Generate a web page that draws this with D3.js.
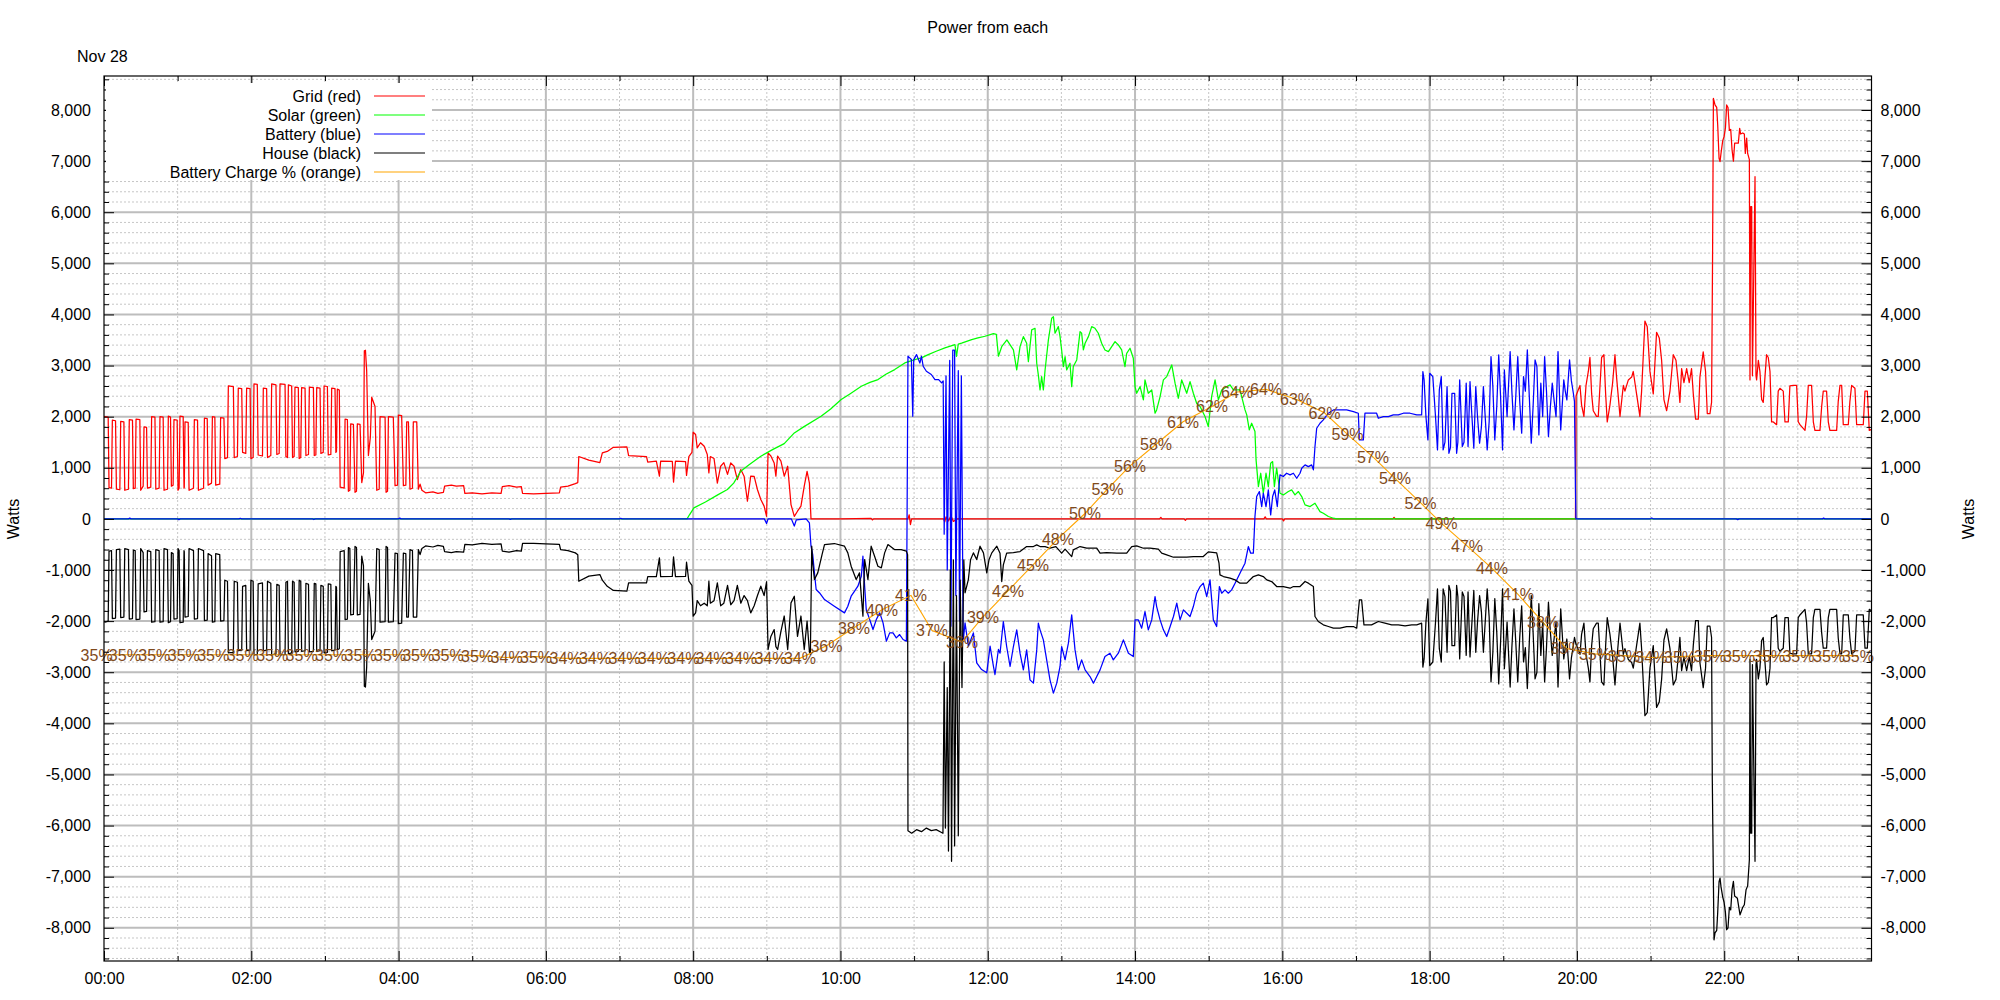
<!DOCTYPE html>
<html><head><meta charset="utf-8">
<script src="https://cdn.jsdelivr.net/npm/d3@7"></script>
<style>
body{margin:0;background:#fff;}
svg{font-family:"Liberation Sans",Arial,sans-serif;}
</style></head><body>
<svg id="c" width="2000" height="1000"></svg>
<script>
// ---------- DATA (minutes since midnight, watts) ----------
const gridData = [
[0,1990],[0.8,2000],[3.4,1990],[4.1,610],[6.1,600],[6.8,1930],[9.4,1920],[10.1,580],[12.9,570],[13.6,1910],[16.2,1900],[16.9,560],[19.9,580],[20.6,1940],[23.2,1930],[23.9,590],[25.4,600],[26.1,1950],[29.2,1940],[29.9,560],[31.9,640],[32.6,1800],[34.7,1790],[35.4,600],[38.1,620],[38.8,2000],[41.5,1990],[42.2,580],[44.9,600],[45.6,2000],[48.2,1990],[48.9,560],[51.7,580],[52.4,2010],[54.2,1990],[54.9,640],[56.3,660],[57,1940],[59.6,1930],[60.3,560],[61.2,600],[61.9,2010],[64.5,2000],[65.2,600],[65.4,620],[66,1900],[68.6,1890],[69.3,560],[72.9,600],[73.6,1940],[76.2,1930],[76.9,560],[81.1,600],[81.8,1970],[84.1,1960],[84.8,660],[87.6,700],[88.3,2000],[90.3,1990],[91,660],[94.3,680],[95,1980],[97.7,1970],[98.4,1180],[100.6,1200],
[101.3,2600],[105.4,2590],[106.1,1200],[108.7,1220],[109.4,2560],[112.2,2550],[112.9,1300],[115.5,1280],[116.2,2560],[119,2550],[119.7,1180],[121.5,1200],[122.2,2640],[124.9,2630],[125.6,1250],[129.1,1230],[129.8,2560],[132.5,2550],[133.2,1200],[135.9,1240],[136.6,2640],[140.1,2620],[140.8,1260],[142.7,1280],[143.4,2640],[147.5,2630],[148.2,1220],[149.5,1200],[150.2,2620],[152.9,2600],[153.6,1200],[154.9,1220],[155.6,2580],[158.3,2570],[159,1180],[160.3,1200],[161,2570],[163.8,2560],[164.5,1240],[166.6,1260],[167.3,2580],[170.6,2570],[171.3,1240],[172.6,1250],[173.3,2570],[176,2560],[176.7,1280],[178.6,1300],[179.3,2600],[182,2590],[182.7,1250],[184.8,1260],[185.5,2560],[188.2,2550],[188.9,1300],[189.4,1320],[190.1,2540],[191.7,2520],[192.4,620],
[195.7,600],[196.4,1950],[198.3,1940],[199.1,540],[200.3,560],[201,1860],[203.2,1850],[204.5,520],[205.7,540],[206.4,1860],[208.6,1850],[210,710],[211.4,900],[212.1,3290],[213,3300],[214,2900],[215.4,1240],[217,1600],[218.1,2380],[220.8,2200],[222.2,560],[224.2,580],[224.9,2000],[229,1990],[229.8,520],[231,540],[231.7,2000],[235.7,1990],[237.1,650],[239.1,660],[239.8,2030],[242.5,2020],[243.9,650],[245.9,660],[246.6,1900],[248,1900],[249.3,580],[251.3,600],[252,1900],[254.8,1900],[256.1,580],
[257.5,680],[259,560],[262,510],[268,530],[272,500],[276.5,520],[277.5,640],[283,660],[287,640],[293,650],[294,500],[300,510],[308,490],[316,510],[323.5,500],[324.5,630],[330,650],[336,620],[340,630],[341,500],[350,490],[360,500],[371,510],[372,620],[378,640],[384,690],[386,710],[386.8,1220],[395,1150],[404,1100],[406,1290],[410,1320],[415,1400],[426,1410],[427.4,1240],[442,1220],[443,1110],[450,1130],[452.5,835],[453.5,1130],[463,1125],[464,720],[465.6,1130],[473.8,1120],[474.6,850],[476.5,1220],[479,1300],[480,1695],[482,1650],[483.3,1390],[486,1490],[489,1420],[491.5,1260],[492.8,900],[494,1220],[497,1180],[499.7,700],[502.4,1030],[505,1100],[508,870],[510.6,1095],[513.3,1030],[516,770],[518.8,965],[521.5,835],[524.2,345],[526.9,835],[529.7,830],[532.4,570],[535.1,380],[537.8,250],[539.8,50],[541,1290],[543.3,1230],[546,1095],[547.4,835],[548.8,1230],[551.5,1130],[554.2,835],[557,1030],[559.7,280],[562.4,50],[565,150],[567.8,250],[570.5,640],[572.8,930],[574.7,700],[576,0],
[600,0],[625,10],[626,-20],[627,0],[655,0],[656,80],[657,-110],[658,0],[684,0],[685,-60],[686,40],[688,-40],[690,60],[692,-50],[695,0],[860,0],[861,30],[862,0],[880,0],[881,-30],[882,0],[945,0],[946,40],[947,0],[960,0],[961,-40],[962,0],[1050,0],[1051,30],[1052,0],[1198.8,0],
[1199.3,2400],[1199.8,2445],[1202.5,2610],[1203.8,2226],[1205.7,2006],[1207.4,2610],[1209.3,2884],[1210.6,3158],[1212,2445],[1213.3,2116],[1216,2006],[1217.4,2006],[1220.1,3158],[1222,3212],[1223.4,2445],[1224.7,1897],[1226.9,2226],[1229.1,2664],[1231,3212],[1232.3,2774],[1235.1,2006],[1237.8,2610],[1239.1,2500],[1241.9,2719],[1244.6,2774],[1245.9,2884],[1248.6,2445],[1251.3,2006],[1252.7,2500],[1255.4,3870],[1257.3,3760],[1259.5,2884],[1262.2,2445],[1264.9,3651],[1267.1,3541],[1269,3103],[1270.9,2335],[1273.1,2116],[1275.8,2500],[1278.5,3212],[1280.7,3103],[1282.6,2664],[1283.9,2280],[1285.3,2938],[1287.2,2664],[1289.4,2938],[1291.5,2664],[1293.4,2938],[1294.8,2445],[1296.7,1951],[1298.9,1951],[1300.2,2774],[1302.9,3267],[1304.8,2884],[1306.2,2061],[1308.4,2061],[1309.7,2280],[1310.5,5076],[1311.2,8229],[1312.5,8100],[1313.9,8050],[1314.7,7707],[1315.8,7055],[1316.6,6990],[1317.4,7153],[1318.8,7400],[1319.9,7478],[1321,7650],[1322,8098],[1323.1,8050],[1324.2,7600],[1325.3,7620],[1326.4,7218],[1327.5,7000],[1328.5,7350],[1330.2,7350],[1331.5,7350],[1332.6,7640],[1333.4,7530],[1335.1,7550],[1336.4,7530],[1337.2,7150],[1338.3,7450],[1339.1,7150],[1340.5,7030],[1341,2719],[1341.6,6108],[1342.4,6108],[1343,2800],[1345.1,6696],[1345.9,2800],[1346.4,2719],[1347.8,3100],[1349.1,2884],[1350.5,2335],[1351.8,2280],[1353.2,2774],[1354.5,3212],[1355.9,3158],[1357.3,2884],[1358.6,1897],[1360,1897],[1362.7,1843],[1364,2500],[1365.4,2555],[1368.1,2500],[1369.5,1897],[1372.2,1897],[1373.5,2600],[1376.3,2610],[1379,2610],[1380.3,1900],[1381.7,1843],[1385.8,1732],[1387.1,2000],[1388.5,2610],[1391.2,2610],[1392.6,1900],[1393.9,1732],[1398,1732],[1399.4,2200],[1400.7,2500],[1403.4,2500],[1404.8,1900],[1406.1,1732],[1411.6,1732],[1412.9,2300],[1414.3,2610],[1415.7,2610],[1417,1843],[1421.1,1843],[1422.4,2300],[1423.8,2610],[1426.5,2555],[1427.9,1843],[1433.3,1843],[1434.7,2500],[1436.6,2500],[1438.2,1732],[1440,1750]
];

const solarData = [
[-10,0],[475,0],[477,80],[480.6,215],[490,330],[500,470],[507.9,574],[513,700],[518.8,932],[525,1050],[535.1,1226],[545,1360],[554.2,1473],[562.4,1682],[570,1800],[584.2,2008],[592,2150],[600.6,2334],[608,2450],[617,2595],[624,2670],[630.6,2725],[637,2830],[644.2,2921],[652.4,3051],[660.6,3117],[666,3150],[671.5,3214],[678,3280],[685.1,3345],[693.3,3410],[694.5,3180],[696,3420],[698.7,3440],[706.9,3508],[712,3540],[717.8,3573],[724.6,3625],[727,3610],[728.7,3182],[731.5,3377],[735.6,3501],
[740.9,3305],[743.6,2914],[746.3,3371],[749,3566],[751.7,3436],[753.1,3077],[755.8,3697],[758.5,3729],[759.9,3045],[761.2,2817],[762.6,2523],[763.9,2784],[765.3,2523],[766.7,2914],[769.4,3501],[772.1,3925],[773.5,3958],[774.8,3632],[777.5,3762],[778.9,3566],[780.2,3305],[781.6,2980],[783,3175],[784.3,2914],[787,3045],[788.4,2588],[789.7,2980],[792.5,3110],[795.2,3664],[796.5,3632],[797.9,3305],[799.3,3436],[802,3566],[804.7,3762],[807.4,3729],[810.1,3632],[812.8,3436],[815.5,3305],[818.3,3273],[821,3371],[823.7,3469],[826.4,3403],[829.1,3305],[831.8,2980],[833.2,3240],[835.9,3338],[838.6,3143],[840,2588],[841.3,2458],[844.1,2588],[846.8,2328],[848.1,2719],[850.8,2458],[853.6,2523],[856.3,2067],[857.6,2132],[860.4,2393],[863.1,2719],[865.8,2784],[869.9,3012],[872.6,2654],[875.3,2360],[878,2719],[882.1,2458],[884.8,2686],[887.5,2458],[890.2,2262],[893,2197],[897,2002],[899.7,1806],[902.4,2393],[905.2,2719],[907.9,2328],[910.6,2523],[914.7,2588],[917.4,2621],[920.1,2523],[925.5,2523],[929.6,2132],[931,2034],[933.1,1741],[935,1871],[937.7,1708],[938.6,1154],[940.5,632],[942.4,893],[944.5,502],[946.7,893],[948.6,632],[950.5,1089],[952.1,1121],[953.5,632],[955.4,991],[958.1,502],[960.8,469],[964.9,535],[967.6,567],[970.3,469],[973.1,535],[975.8,437],[978.5,274],[982.6,241],[986.6,306],[990.7,143],[993.4,111],[997.5,46],[1001.6,13],[1004.3,0],[1440,0]
];

const batteryData = [
[-10,0],[20,0],[21,15],[22,0],[60,0],[61,-15],[62,0],[110,0],[111,12],[112,0],[170,0],[171,-12],[172,0],[240,0],[241,15],[242,0],[330,0],[331,-10],[332,0],[420,0],[421,12],[422,0],[538,0],[539.8,-90],[541,0],[560,0],[562.4,-140],[564,-20],[572,0],[574.7,-80],[576,-535],[577.4,-700],[578.8,-1056],[580.2,-1382],[583,-1450],[587,-1578],[595,-1708],[603.3,-1839],[606,-1708],[608.7,-1513],[611.5,-1415],[614.2,-1317],[617,-1121],[618.3,-730],[619.7,-1317],[621,-1774],[623.8,-1970],[626.5,-2165],[629.2,-1970],[632,-1839],[634.7,-2034],[637.4,-2393],[640.1,-2230],[642.8,-2230],[645.5,-2328],[648.2,-2263],[651,-2360],[653.7,-2393],
[655,3182],[656.4,3150],[657.8,3117],[658.9,2008],[659.7,3117],[662,3214],[664.7,3050],[666,3182],[667.4,2986],[670,2888],[674,2825],[677,2725],[680,2725],[682.4,2660],[683.7,2700],[684.5,-300],[686,2800],[687,-1000],[689,3100],[690,-2100],[691.5,3300],[693,3300],[694,-1500],[696,2900],[697,-2000],[698.5,2800],[700,-2400],
[701.5,-2034],[704.2,-2490],[708.3,-2230],[711,-2817],[715,-2947],[719.2,-3012],[721.9,-2490],[724.6,-2880],[725.9,-3045],[728.7,-2555],[730,-2628],[732.7,-2008],[735.4,-2497],[738.2,-2888],[740.9,-2497],[743.6,-2171],[746.3,-2628],[749,-2954],[751.7,-2563],[754.4,-3149],[757.2,-3214],[759.9,-2563],[761.2,-2041],[762.6,-2171],[765.3,-2367],[768,-2758],[770.7,-3149],[773.5,-3410],[776.2,-3214],[778.9,-2888],[780.2,-2497],[783,-2758],[785.7,-2432],[788.4,-1878],[791.1,-2563],[793.8,-2954],[796.5,-2758],[799.3,-2954],[803.3,-3084],[806.1,-3214],[808.8,-3084],[811.5,-2954],[815.5,-2693],[819.6,-2628],[822.3,-2758],[826.4,-2628],[830.5,-2367],[834.6,-2628],[838.6,-2693],[840,-1976],[842.7,-1976],[845.4,-2139],[848.1,-1813],[850.8,-2171],[853.6,-1976],[856.3,-1519],[857.6,-1715],[860.4,-1976],[863.1,-2171],[865.8,-2302],[868.6,-2106],[871.3,-1910],[874,-1650],[876.7,-1976],[879.4,-1780],[884.8,-1910],[887.5,-1715],[890.2,-1454],[893,-1324],[895.6,-1258],[898.4,-1519],[901.1,-1193],[903.8,-1976],[906.5,-2106],[908.7,-1324],[910.6,-1454],[913.3,-1389],[916,-1454],[918.7,-1389],[921.5,-1258],[924.2,-1128],[926.9,-997],[929.6,-867],[932.3,-541],[934.2,-671],[936.4,-671],[937.7,46],[939.1,437],[941.3,535],[943.2,241],[944.5,502],[946.7,241],[948.6,567],[950.5,78],[952.1,437],[953.8,567],[955.9,241],[958.1,861],[960.8,828],[963.5,893],[966.3,861],[969,893],[971.7,795],[974.4,893],[975.8,991],[978.5,1056],[981.2,1023],[983.9,1056],[985.3,958],[986.6,1415],[988,1773],[990.7,1871],[993.4,1936],[997.5,2067],[1001.6,2132],[1007,2132],[1012.4,2132],[1017.9,2100],[1021.9,2067],[1022.8,1545],[1024.6,1545],[1026,1545],[1027.3,2067],[1031.4,2067],[1036.8,2067],[1038.2,1969],[1042.3,2000],[1046.4,2000],[1050.4,2034],[1054.5,2034],[1058.6,2067],[1064,2067],[1069.5,2034],[1073.5,2034],
[1074.5,2882],[1075.5,2719],[1077,2000],[1078.6,1545],[1080.1,2849],[1082.6,2784],[1084.8,2002],[1086.4,1350],[1087.9,2523],[1089.5,2784],[1091,1350],[1092.5,1500],[1094.2,2588],[1095.7,1284],[1097,1400],[1098.2,2458],[1100.4,2458],[1102,1284],[1103,1500],[1104.5,2719],[1106.6,1415],[1108,1500],[1109.8,2654],[1111.3,1415],[1112.9,2686],[1114,2200],[1116,1382],[1117.6,2588],[1119,2000],[1120.7,1480],[1122.2,1800],[1123.8,2588],[1126.9,1350],[1128.5,1900],[1130,3175],[1131.5,2600],[1133.1,1545],[1134.7,2200],[1136.3,3208],[1137.8,2400],[1139.4,1350],[1140.9,2914],[1143.1,2002],[1145.6,3273],[1147,2500],[1148.7,1741],[1150.2,2400],[1151.8,3175],[1153.4,2300],[1155,1676],[1156.5,2784],[1158,2500],[1159.6,3305],[1161.2,2400],[1162.8,1480],[1164.3,2200],[1165.9,3110],[1167.4,2980],[1169,1643],[1170.6,2654],[1172.1,2002],[1173.7,3175],[1175.2,2500],[1176.8,1610],[1178.4,2200],[1179.9,2654],[1181.5,2300],[1183,2002],[1184.6,3273],[1186.8,1741],[1189.3,2719],[1190.5,2500],[1191.8,2328],[1194,3110],[1195.5,2700],[1197.1,2458],[1198,2300],[1198.8,600],[1199.2,0],[1260,0],[1261,20],[1262,0],[1330,0],[1331,-15],[1332,0],[1400,0],[1401,15],[1402,0],[1440,0]
];

const houseData = [
[0,-2000],[0.8,-2020],[3.4,-2000],[4.1,-630],[6.1,-620],[6.8,-1950],[9.4,-1940],[10.1,-600],[12.9,-590],[13.6,-1930],[16.2,-1920],[16.9,-580],[19.9,-600],[20.6,-1960],[23.2,-1950],[23.9,-610],[25.4,-620],[26.1,-1970],[29.2,-1960],[29.9,-580],[31.9,-660],[32.6,-1820],[34.7,-1810],[35.4,-620],[38.1,-640],[38.8,-2020],[41.5,-2010],[42.2,-600],[44.9,-620],[45.6,-2020],[48.2,-2010],[48.9,-580],[51.7,-600],[52.4,-2030],[54.2,-2010],[54.9,-660],[56.3,-680],[57,-1960],[59.6,-1950],[60.3,-580],[61.2,-620],[61.9,-2030],[64.5,-2020],[65.2,-620],[65.4,-640],[66,-1920],[68.6,-1910],[69.3,-580],[72.9,-620],[73.6,-1960],[76.2,-1950],[76.9,-580],[81.1,-620],[81.8,-1990],[84.1,-1980],[84.8,-680],[87.6,-720],[88.3,-2020],[90.3,-2010],[91,-680],[94.3,-700],[95,-2000],[97.7,-1990],[98.4,-1200],[100.6,-1220],
[101.3,-2620],[105.4,-2610],[106.1,-1220],[108.7,-1240],[109.4,-2580],[112.2,-2570],[112.9,-1320],[115.5,-1300],[116.2,-2580],[119,-2570],[119.7,-1200],[121.5,-1220],[122.2,-2660],[124.9,-2650],[125.6,-1270],[129.1,-1250],[129.8,-2580],[132.5,-2570],[133.2,-1220],[135.9,-1260],[136.6,-2660],[140.1,-2640],[140.8,-1280],[142.7,-1300],[143.4,-2660],[147.5,-2650],[148.2,-1240],[149.5,-1220],[150.2,-2640],[152.9,-2620],[153.6,-1220],[154.9,-1240],[155.6,-2600],[158.3,-2590],[159,-1200],[160.3,-1220],[161,-2590],[163.8,-2580],[164.5,-1260],[166.6,-1280],[167.3,-2600],[170.6,-2590],[171.3,-1260],[172.6,-1270],[173.3,-2590],[176,-2580],[176.7,-1300],[178.6,-1320],[179.3,-2620],[182,-2610],[182.7,-1270],[184.8,-1280],[185.5,-2580],[188.2,-2570],[188.9,-1320],[189.4,-1340],[190.1,-2560],[191.7,-2540],[192.4,-640],
[195.7,-620],[196.4,-1970],[198.3,-1960],[199.1,-560],[200.3,-580],[201,-1880],[203.2,-1870],[204.5,-540],[205.7,-560],[206.4,-1880],[208.6,-1870],[210,-730],[211.4,-920],[212.1,-3275],[213,-3290],[214,-2900],[215.4,-1260],[217,-1620],[218.1,-2360],[220.8,-2200],[222.2,-580],[224.2,-600],[224.9,-2020],[229,-2010],[229.8,-540],[231,-560],[231.7,-2020],[235.7,-2010],[237.1,-670],[239.1,-680],[239.8,-2050],[242.5,-2040],[243.9,-670],[245.9,-680],[246.6,-1920],[248,-1920],[249.3,-600],[251.3,-620],[252,-1920],[254.8,-1920],[256.1,-600],
[257.5,-700],[259,-580],[262,-530],[268,-550],[272,-520],[276.5,-540],[277.5,-640],[283,-660],[287,-640],[293,-650],[294,-500],[300,-510],[308,-480],[316,-500],[323.5,-490],[324.5,-630],[330,-650],[336,-620],[340,-630],[341,-480],[350,-480],[360,-490],[371,-500],[372,-600],[378,-620],[384,-665],[386,-700],
[386.8,-1220],[395,-1120],[404,-1090],[406,-1200],[410,-1320],[415,-1400],[426,-1415],[427.4,-1250],[442,-1250],[443,-1130],[450,-1130],[452.5,-763],[453.5,-1130],[463,-1125],[464,-743],[465.6,-1130],[473.8,-1125],[474.6,-848],[476.5,-1220],[479,-1300],[480,-1904],[482,-1840],[483.3,-1600],[486,-1700],[489,-1650],[491.5,-1700],[492.8,-1220],[494,-1650],[497,-1600],[499.7,-1250],[502.4,-1700],[505,-1650],[508,-1300],[510.6,-1680],[513.3,-1600],[516,-1300],[518.8,-1650],[521.5,-1500],[524.2,-1600],[526.9,-1839],[529.7,-1700],[532.4,-1500],[535.1,-1317],[537.8,-1500],[539.8,-1230],[541,-2556],[543.3,-2300],[546,-2165],[547.4,-2500],[548.8,-2556],[551.5,-2200],[554.2,-1900],[557,-2556],[559.7,-1643],[562.4,-1513],[565,-2300],[567.8,-1900],[570.5,-2556],[572.8,-2000],[574.7,-2600],[575.5,-2650],[576.6,-535],[577.4,-870],[578.8,-1187],[581.5,-1056],[585,-700],[587,-502],[595,-482],[603.3,-535],[606,-665],[608.7,-926],[612.8,-1187],[615.5,-1056],[618.3,-1904],[619.7,-795],[622.4,-1187],[625,-535],[627.8,-730],[630.5,-926],[633.3,-958],[636,-665],[638.7,-502],[644,-600],[649.5,-600],[653.7,-630],[654.7,-700],
[655,-6100],[658,-6150],[662,-6080],[666,-6120],[670,-6050],[674,-6100],[678,-6080],[682,-6130],[683.5,-6150],[684.5,-2800],[685.5,-6050],[687,-3300],[688,-6500],[689.5,-1000],[690.5,-6700],[692,-800],[693,-6400],[694.5,-1500],[696,-6200],[697.5,-1200],[699,-3300],[700.5,-800],[701.5,-1447],[704.2,-1187],[706,-800],[708.3,-665],[711,-795],[713.7,-535],[716.5,-665],[719.2,-1056],[721,-800],[723.3,-665],[727.4,-535],[730,-671],[731.4,-1226],[732.7,-900],[735.4,-671],[740.9,-658],[746.3,-639],[751.7,-541],[757.2,-541],[759.9,-508],[762.6,-541],[766.7,-541],[770.7,-574],[775.5,-541],[780.2,-671],[783,-593],[788.4,-737],[789.7,-606],[795.2,-541],[800.6,-574],[808.8,-574],[811.5,-671],[816.9,-658],[825.1,-671],[833.2,-671],[837.3,-541],[841.3,-528],[846.8,-574],[852.2,-574],[859,-593],[861.7,-671],[865.8,-704],[871.3,-750],[876.7,-750],[882.1,-750],[887.5,-737],[895.6,-737],[899.7,-645],[906.5,-665],[908.4,-867],[909.2,-1095],[912,-1128],[917.4,-1160],[921.5,-1193],[925.5,-1258],[931,-1258],[936.4,-1128],[940.5,-1095],[944.5,-1128],[947.3,-1193],[951.3,-1226],[955.4,-1324],[960.8,-1324],[966.3,-1356],[969,-1324],[974.4,-1324],[978.5,-1226],[981.2,-1258],[985.3,-1324],[986.6,-1910],[989.3,-2008],[993.4,-2073],[997.5,-2106],[1001.6,-2139],[1007,-2139],[1012.4,-2106],[1017.9,-2106],[1020.6,-2139],[1022.8,-1584],[1024.6,-1584],[1026.5,-2073],[1032.7,-2073],[1038.2,-2008],[1043.6,-2041],[1049.1,-2073],[1054.5,-2073],[1060,-2093],[1065.4,-2073],[1069.5,-2073],[1073.5,-2041],
[1074.5,-2900],[1075.5,-2740],[1077,-2020],[1078.6,-1565],[1080.1,-2870],[1082.6,-2800],[1084.8,-2020],[1086.4,-1370],[1087.9,-2540],[1089.5,-2800],[1091,-1370],[1092.5,-1520],[1094.2,-2610],[1095.7,-1300],[1097,-1420],[1098.2,-2480],[1100.4,-2480],[1102,-1300],[1103,-1520],[1104.5,-2740],[1106.6,-1430],[1108,-1520],[1109.8,-2670],[1111.3,-1430],[1112.9,-2700],[1114,-2220],[1116,-1400],[1117.6,-2610],[1119,-2020],[1120.7,-1500],[1122.2,-1820],[1123.8,-2610],[1126.9,-1370],[1128.5,-1920],[1130,-3190],[1131.5,-2620],[1133.1,-1560],[1134.7,-2220],[1136.3,-3230],[1137.8,-2420],[1139.4,-1370],[1140.9,-2930],[1143.1,-2020],[1145.6,-3290],[1147,-2520],[1148.7,-1760],[1150.2,-2420],[1151.8,-3190],[1153.4,-2320],[1155,-1700],[1156.5,-2800],[1158,-2520],[1159.6,-3320],[1161.2,-2420],[1162.8,-1500],[1164.3,-2220],[1165.9,-3130],[1167.4,-3000],[1169,-1660],[1170.6,-2670],[1172.1,-2020],[1173.7,-3190],[1175.2,-2520],[1176.8,-1630],[1178.4,-2220],[1179.9,-2670],[1181.5,-2320],[1183,-2020],[1184.6,-3290],[1186.8,-1760],[1189.3,-2740],[1190.5,-2520],[1191.8,-2350],[1194,-3130],[1195.5,-2720],[1197.1,-2480],[1198,-2320],[1199.2,-2450],
[1199.8,-2480],[1202.5,-2650],[1203.8,-2260],[1205.7,-2040],[1207.4,-2650],[1209.3,-2920],[1210.6,-3190],[1212,-2480],[1213.3,-2150],[1216,-2040],[1217.4,-2040],[1220.1,-3190],[1222,-3250],[1223.4,-2480],[1224.7,-1930],[1226.9,-2260],[1229.1,-2700],[1231,-3250],[1232.3,-2810],[1235.1,-2040],[1237.8,-2650],[1239.1,-2540],[1241.9,-2750],[1244.6,-2810],[1245.9,-2920],[1248.6,-2480],[1251.3,-2040],[1252.7,-2540],[1255.4,-3850],[1257.3,-3790],[1259.5,-2920],[1262.2,-2480],[1264.9,-3690],[1267.1,-3580],[1269,-3140],[1270.9,-2370],[1273.1,-2150],[1275.8,-2540],[1278.5,-3250],[1280.7,-3140],[1282.6,-2700],[1283.9,-2320],[1285.3,-2970],[1287.2,-2700],[1289.4,-2970],[1291.5,-2700],[1293.4,-2970],[1294.8,-2480],[1296.7,-1990],[1298.9,-1990],[1300.2,-2810],[1302.9,-3300],[1304.8,-2920],[1306.2,-2100],[1308.4,-2100],[1309.7,-2320],[1310.3,-5100],[1311.7,-8235],[1312.5,-8100],[1313.9,-8050],[1314.7,-7700],[1315.8,-7100],[1316.6,-7028],[1317.4,-7200],[1318.8,-7400],[1319.9,-7500],[1321,-7700],[1322,-8039],[1323.1,-8000],[1324.2,-7600],[1325.3,-7650],[1326.4,-7250],[1327.5,-7094],[1328.5,-7380],[1330.7,-7420],[1332.9,-7746],[1335.1,-7600],[1336.4,-7550],[1337.8,-7257],[1339.1,-7180],[1340.5,-6670],[1341,-2750],[1341.6,-6150],[1342.4,-6150],[1343,-2850],[1345.1,-6700],[1345.9,-2850],[1346.4,-2750],[1347.8,-3130],[1349.1,-2920],[1350.5,-2380],[1351.8,-2320],[1353.2,-2800],[1354.5,-3250],[1355.9,-3200],[1357.3,-2920],[1358.6,-1930],[1360,-1930],[1362.7,-1880],[1364,-2530],[1365.4,-2590],[1368.1,-2530],[1369.5,-1930],[1372.2,-1930],[1373.5,-2630],[1376.3,-2640],[1379,-2640],[1380.3,-1930],[1381.7,-1880],[1385.8,-1770],[1387.1,-2030],[1388.5,-2640],[1391.2,-2640],[1392.6,-1930],[1393.9,-1770],[1398,-1770],[1399.4,-2230],[1400.7,-2530],[1403.4,-2530],[1404.8,-1930],[1406.1,-1770],[1411.6,-1770],[1412.9,-2330],[1414.3,-2640],[1415.7,-2640],[1417,-1880],[1421.1,-1880],[1422.4,-2330],[1423.8,-2640],[1426.5,-2590],[1427.9,-1880],[1433.3,-1880],[1434.7,-2530],[1436.6,-2530],[1438.2,-1770],[1440,-1800]
];

// battery state of charge: [minute, percent]
const chargeData = [
[-6,34.7],[17,34.7],[41,34.7],[65,34.7],[89,34.7],[113,34.7],[137,34.7],[161,34.7],[185,34.7],[209,34.7],[233,34.7],[256,34.7],[280,34.7],[304,34.6],[328,34.4],[352,34.5],[376,34.3],[400,34.3],[424,34.3],[448,34.3],[472,34.3],[495,34.3],[519,34.3],[543,34.3],[567,34.3],
[588.6,35.7],[611,37.7],[633.8,39.7],[657.5,41.3],[674.6,37.4],[699,36.1],[716.1,38.9],[736.5,41.8],[756.9,44.7],[777.2,47.6],[799.2,50.4],[817.5,53.1],[835.9,55.7],[857.1,58.1],[879.1,60.6],[902.7,62.3],[923.1,63.9],[946.7,64.2],[971.2,63.1],[994.3,61.6],[1013.1,59.2],[1033.8,56.7],[1051.8,54.3],[1072.5,51.6],[1089.7,49.3],[1110.5,46.8],[1130.8,44.3],[1152,41.4],[1172.4,38.3],[1191.5,35.4],[1214.7,34.8],[1238.4,34.6],[1260.7,34.4],[1284,34.5],[1308.4,34.6],[1332,34.6],[1356.5,34.6],[1380.5,34.6],[1405.4,34.6],[1429,34.6]
];

const yTickValues = [-8000,-7000,-6000,-5000,-4000,-3000,-2000,-1000,0,1000,2000,3000,4000,5000,6000,7000,8000];
const xTickMinutes = [0,120,240,360,480,600,720,840,960,1080,1200,1320];
const legendNames = ["Grid (red)","Solar (green)","Battery (blue)","House (black)","Battery Charge % (orange)"];
const titleText = "Power from each";
const dateText = "Nov 28";
const axisTitle = "Watts";

// ---------- DRAWING ----------
const L=104, R=1871.5, T=76, B=961;
const colors=["#ff0000","#00ff00","#0000ff","#000000","#ffa500"];
const labelColor="#7f4a1c";
const FONT='"Liberation Sans",Arial,sans-serif';

const x=d3.scaleLinear().domain([0,1440]).range([L,R]);
const y=d3.scaleLinear().domain([-8650,8665]).range([B,T]);
const yPct=d3.scaleLinear().domain([0,100]).range([y(-8765),y(8835)]);
const fmt=d3.formatLocale({decimal:".",thousands:",",grouping:[3],currency:["",""],minus:"-"}).format(",");

const svg=d3.select("#c");
svg.append("rect").attr("width",2000).attr("height",1000).attr("fill","#fff");

svg.append("defs").append("clipPath").attr("id","plot")
  .append("rect").attr("x",L).attr("y",T).attr("width",R-L).attr("height",B-T);

const minorY=d3.range(-8600,8601,200).filter(v=>v%1000!==0);
const minorX=d3.range(60,1440,120);

// minor grid
const g0=svg.append("g");
g0.selectAll("line.my").data(minorY).join("line")
  .attr("x1",L).attr("x2",R).attr("y1",d=>y(d)).attr("y2",d=>y(d))
  .attr("stroke","#c6c6c6").attr("stroke-width",1).attr("stroke-dasharray","2,2");
g0.selectAll("line.mx").data(minorX).join("line")
  .attr("y1",T).attr("y2",B).attr("x1",d=>x(d)).attr("x2",d=>x(d))
  .attr("stroke","#c6c6c6").attr("stroke-width",1).attr("stroke-dasharray","2,2");
// major grid
g0.selectAll("line.My").data(yTickValues).join("line")
  .attr("x1",L).attr("x2",R).attr("y1",d=>y(d)).attr("y2",d=>y(d))
  .attr("stroke","#bdbdbd").attr("stroke-width",2);
g0.selectAll("line.Mx").data(xTickMinutes.filter(d=>d>0)).join("line")
  .attr("y1",T).attr("y2",B).attr("x1",d=>x(d)).attr("x2",d=>x(d))
  .attr("stroke","#bdbdbd").attr("stroke-width",2);

// series
const line=d3.line().x(d=>x(d[0])).y(d=>y(d[1]));
const gl=svg.append("g").attr("clip-path","url(#plot)");
[gridData,solarData,batteryData,houseData].forEach((s,i)=>{
  gl.append("path").datum(s).attr("d",line).attr("fill","none")
    .attr("stroke",colors[i]).attr("stroke-width",1.25).attr("stroke-linejoin","round");
});
const pline=d3.line().x(d=>x(d[0])).y(d=>yPct(d[1]));
gl.append("path").datum(chargeData).attr("d",pline).attr("fill","none")
  .attr("stroke",colors[4]).attr("stroke-width",1.1);

// charge labels
svg.append("g").selectAll("text").data(chargeData).join("text")
  .attr("x",d=>x(d[0])).attr("y",d=>yPct(d[1])+6)
  .attr("text-anchor","middle").attr("font-size",16).attr("font-family",FONT)
  .attr("fill",labelColor).text(d=>Math.round(d[1])+"%");

// axes
function styleAxis(g){
  g.attr("font-size",16).attr("font-family",FONT);
  g.select(".domain").remove();
  g.selectAll(".tick line").attr("stroke","#000").attr("stroke-width",1);
  g.selectAll(".tick text").attr("fill","#000");
}
svg.append("g").attr("transform",`translate(${L},0)`)
  .call(d3.axisLeft(y).tickValues(yTickValues).tickSize(-10).tickPadding(13).tickFormat(fmt)).call(styleAxis);
svg.append("g").attr("transform",`translate(${L},0)`)
  .call(d3.axisLeft(y).tickValues(minorY).tickSize(-5).tickFormat("")).call(styleAxis);
svg.append("g").attr("transform",`translate(${R},0)`)
  .call(d3.axisRight(y).tickValues(yTickValues).tickSize(-10).tickPadding(9).tickFormat(fmt)).call(styleAxis);
svg.append("g").attr("transform",`translate(${R},0)`)
  .call(d3.axisRight(y).tickValues(minorY).tickSize(-5).tickFormat("")).call(styleAxis);
const hfmt=m=>String(Math.floor(m/60)).padStart(2,"0")+":00";
svg.append("g").attr("transform",`translate(0,${B})`)
  .call(d3.axisBottom(x).tickValues(xTickMinutes).tickSize(-10).tickPadding(12).tickFormat(hfmt)).call(styleAxis);
svg.append("g").attr("transform",`translate(0,${B})`)
  .call(d3.axisBottom(x).tickValues(minorX).tickSize(-5).tickFormat("")).call(styleAxis);
svg.append("g").attr("transform",`translate(0,${T})`)
  .call(d3.axisTop(x).tickValues(xTickMinutes).tickSize(-10).tickFormat("")).call(styleAxis);
svg.append("g").attr("transform",`translate(0,${T})`)
  .call(d3.axisTop(x).tickValues(minorX).tickSize(-5).tickFormat("")).call(styleAxis);

// border
svg.append("rect").attr("x",L).attr("y",T).attr("width",R-L).attr("height",B-T)
  .attr("fill","none").attr("stroke","#000").attr("stroke-width",1.2);

// legend
const lg=svg.append("g").attr("font-size",16).attr("font-family",FONT);
lg.append("rect").attr("x",L+2).attr("y",83).attr("width",326).attr("height",97).attr("fill","#fff");
legendNames.forEach((n,i)=>{
  const yy=96+i*19;
  lg.append("text").attr("x",361).attr("y",yy+5.5).attr("text-anchor","end").attr("fill","#000").text(n);
  lg.append("line").attr("x1",374).attr("x2",425).attr("y1",yy).attr("y2",yy)
    .attr("stroke",colors[i]).attr("stroke-width",1.2);
});

// titles
svg.append("text").attr("x",(L+R)/2).attr("y",33).attr("text-anchor","middle")
  .attr("font-size",16).attr("font-family",FONT).text(titleText);
svg.append("text").attr("x",77).attr("y",62).attr("font-size",16).attr("font-family",FONT).text(dateText);
svg.append("text").attr("transform","translate(19,519) rotate(-90)").attr("text-anchor","middle")
  .attr("font-size",16).attr("font-family",FONT).text(axisTitle);
svg.append("text").attr("transform","translate(1974,519) rotate(-90)").attr("text-anchor","middle")
  .attr("font-size",16).attr("font-family",FONT).text(axisTitle);
</script>
</body></html>
